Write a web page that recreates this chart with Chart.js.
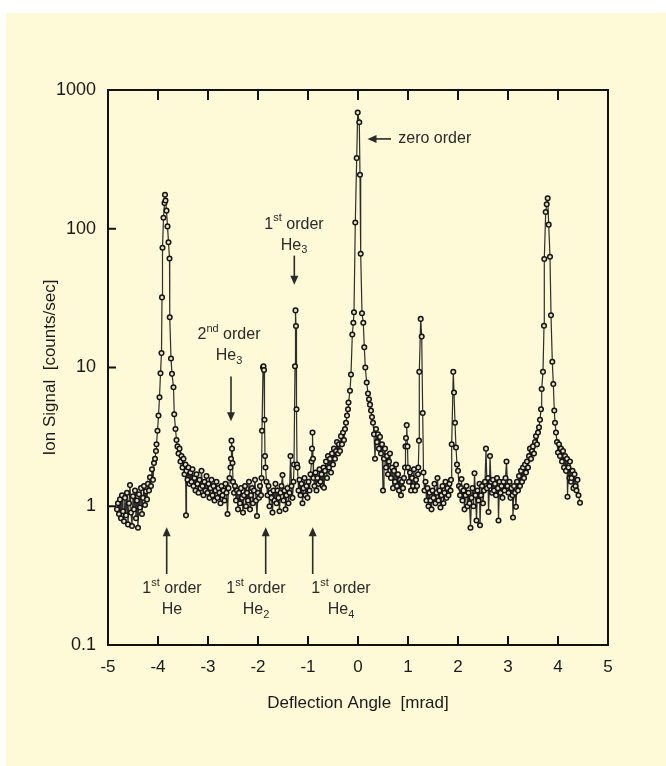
<!DOCTYPE html>
<html>
<head>
<meta charset="utf-8">
<script src="https://cdn.jsdelivr.net/npm/chart.js@4"></script>
<style>
  html, body { margin: 0; padding: 0; background: #ffffff; }
  #paper { position: absolute; left: 6px; top: 13px; width: 660px; height: 753px; background: #fef9d6; }
  #chart { position: absolute; left: 0; top: 0; }
</style>
</head>
<body>
<div id="paper"></div>
<canvas id="chart" width="666" height="766"></canvas>
<script>
// deflection angle [mrad]
const angle = [
  -4.82, -4.80, -4.78, -4.76, -4.74, -4.72, -4.70, -4.68, -4.66, -4.64,
  -4.62, -4.60, -4.58, -4.56, -4.54, -4.52, -4.50, -4.48, -4.46, -4.44,
  -4.42, -4.40, -4.38, -4.36, -4.34, -4.32, -4.30, -4.28, -4.26, -4.24,
  -4.22, -4.20, -4.18, -4.16, -4.14, -4.12, -4.10, -4.08, -4.06, -4.04,
  -4.03, -4.01, -3.99, -3.97, -3.95, -3.93, -3.92, -3.91, -3.89, -3.87,
  -3.86, -3.85, -3.83, -3.81, -3.79, -3.77, -3.765, -3.74, -3.72, -3.69,
  -3.675, -3.65, -3.63, -3.61, -3.59, -3.57, -3.55, -3.53, -3.51, -3.49,
  -3.47, -3.45, -3.44, -3.43, -3.41, -3.39, -3.37, -3.35, -3.33, -3.31,
  -3.29, -3.27, -3.25, -3.23, -3.21, -3.19, -3.17, -3.15, -3.13, -3.11,
  -3.09, -3.07, -3.05, -3.03, -3.01, -2.99, -2.97, -2.95, -2.93, -2.91,
  -2.89, -2.87, -2.85, -2.83, -2.81, -2.79, -2.77, -2.75, -2.73, -2.71,
  -2.69, -2.67, -2.65, -2.63, -2.61, -2.59, -2.57, -2.55, -2.54, -2.53,
  -2.52, -2.51, -2.50, -2.48, -2.46, -2.44, -2.42, -2.40, -2.38, -2.36,
  -2.34, -2.32, -2.30, -2.28, -2.26, -2.24, -2.22, -2.20, -2.18, -2.16,
  -2.14, -2.12, -2.10, -2.08, -2.06, -2.04, -2.02, -2.00, -1.98, -1.96,
  -1.94, -1.93, -1.92, -1.90, -1.89, -1.88, -1.87, -1.86, -1.85, -1.83,
  -1.81, -1.79, -1.77, -1.75, -1.73, -1.71, -1.69, -1.67, -1.65, -1.63,
  -1.61, -1.59, -1.57, -1.55, -1.53, -1.51, -1.49, -1.47, -1.45, -1.43,
  -1.41, -1.39, -1.37, -1.35, -1.33, -1.31, -1.29, -1.28, -1.26, -1.25,
  -1.24, -1.23, -1.22, -1.21, -1.19, -1.17, -1.15, -1.13, -1.11, -1.09,
  -1.07, -1.05, -1.03, -1.01, -0.99, -0.97, -0.95, -0.93, -0.92, -0.91,
  -0.90, -0.89, -0.87, -0.85, -0.83, -0.81, -0.79, -0.77, -0.75, -0.73,
  -0.71, -0.69, -0.68, -0.66, -0.64, -0.62, -0.60, -0.58, -0.56, -0.54,
  -0.52, -0.50, -0.48, -0.46, -0.44, -0.42, -0.40, -0.38, -0.36, -0.34,
  -0.32, -0.30, -0.28, -0.26, -0.24, -0.22, -0.20, -0.19, -0.16, -0.14,
  -0.114, -0.093, -0.08, -0.054, -0.026, -0.006, 0.026, 0.04, 0.054, 0.08,
  0.106, 0.126, 0.146, 0.174, 0.20, 0.22, 0.24, 0.26, 0.28, 0.30,
  0.32, 0.34, 0.36, 0.38, 0.40, 0.42, 0.44, 0.46, 0.48, 0.50,
  0.52, 0.54, 0.56, 0.58, 0.60, 0.62, 0.64, 0.66, 0.68, 0.70,
  0.72, 0.74, 0.76, 0.78, 0.80, 0.82, 0.84, 0.86, 0.88, 0.90,
  0.92, 0.94, 0.95, 0.96, 0.974, 0.99, 1.00, 1.02, 1.04, 1.06,
  1.08, 1.10, 1.12, 1.14, 1.16, 1.18, 1.20, 1.206, 1.22, 1.226,
  1.254, 1.274, 1.294, 1.31, 1.33, 1.35, 1.37, 1.39, 1.41, 1.43,
  1.45, 1.47, 1.49, 1.51, 1.53, 1.55, 1.57, 1.59, 1.61, 1.63,
  1.65, 1.67, 1.69, 1.71, 1.73, 1.75, 1.77, 1.79, 1.81, 1.83,
  1.85, 1.86, 1.874, 1.906, 1.92, 1.94, 1.96, 1.98, 2.00, 2.02,
  2.04, 2.06, 2.07, 2.09, 2.11, 2.13, 2.15, 2.17, 2.19, 2.21,
  2.23, 2.25, 2.27, 2.29, 2.31, 2.33, 2.35, 2.37, 2.39, 2.41,
  2.43, 2.44, 2.46, 2.48, 2.50, 2.52, 2.54, 2.56, 2.58, 2.60,
  2.61, 2.63, 2.64, 2.66, 2.68, 2.70, 2.72, 2.74, 2.76, 2.78,
  2.80, 2.81, 2.83, 2.85, 2.87, 2.89, 2.91, 2.93, 2.95, 2.97,
  2.99, 3.01, 3.03, 3.05, 3.07, 3.09, 3.10, 3.12, 3.14, 3.16,
  3.18, 3.20, 3.22, 3.24, 3.26, 3.28, 3.30, 3.32, 3.34, 3.36,
  3.38, 3.40, 3.42, 3.44, 3.46, 3.48, 3.50, 3.52, 3.54, 3.56,
  3.58, 3.60, 3.62, 3.64, 3.66, 3.674, 3.70, 3.72, 3.726, 3.754,
  3.774, 3.794, 3.814, 3.84, 3.86, 3.886, 3.906, 3.926, 3.94, 3.96,
  3.98, 4.00, 4.02, 4.04, 4.06, 4.08, 4.10, 4.12, 4.14, 4.16,
  4.18, 4.19, 4.21, 4.23, 4.24, 4.26, 4.27, 4.29, 4.31, 4.33,
  4.35, 4.37, 4.39, 4.41, 4.44
];

// ion signal [counts/sec]
const signal = [
  0.95, 1.05, 0.88, 1.12, 0.82, 1.20, 0.92, 0.78, 1.15, 0.86,
  1.25, 0.74, 1.05, 1.42, 0.90, 0.72, 1.18, 0.95, 1.30, 0.82,
  1.10, 0.70, 1.22, 0.98, 1.35, 0.88, 1.15, 1.40, 1.02, 1.28,
  1.12, 1.45, 1.30, 1.62, 1.40, 1.85, 1.55, 2.05, 2.2, 2.5,
  2.8, 3.5, 4.5, 6.1, 9.1, 12.7, 32, 73, 120, 153,
  176, 160, 135, 104, 80, 61, 23, 11.6, 9.0, 7.2,
  4.6, 3.6, 3.0, 2.7, 2.4, 2.6, 2.1, 2.3, 1.9, 2.2,
  1.7, 2.0, 0.86, 1.8, 1.55, 1.9, 1.45, 1.75, 1.5, 1.85,
  1.4, 1.6, 1.3, 1.7, 1.45, 1.25, 1.55, 1.35, 1.8, 1.4,
  1.2, 1.5, 1.3, 1.65, 1.25, 1.45, 1.15, 1.35, 1.55, 1.2,
  1.4, 1.1, 1.3, 1.5, 1.15, 1.35, 1.25, 1.05, 1.4, 1.2,
  1.3, 1.1, 1.45, 1.25, 0.88, 1.35, 1.6, 1.9, 2.2, 2.97,
  2.6, 2.05, 1.5, 1.25, 1.4, 1.1, 1.3, 0.95, 1.25, 1.05,
  1.35, 1.15, 0.9, 1.2, 1.4, 1.0, 1.25, 1.1, 1.5, 0.95,
  1.2, 1.35, 1.05, 1.3, 1.55, 1.1, 0.85, 1.25, 1.15, 1.4,
  1.2, 1.6, 3.5, 10.0, 10.2, 9.6, 4.2, 2.3, 1.9, 1.5,
  1.2, 1.4, 1.0, 1.25, 1.15, 0.9, 1.3, 1.1, 1.45, 1.05,
  1.3, 1.15, 0.92, 1.25, 1.4, 1.68, 1.1, 1.3, 0.95, 1.2,
  1.35, 1.05, 1.25, 2.3, 1.4, 1.15, 1.5, 2.0, 10.2, 25.8,
  19.9, 5.0, 2.0, 1.9, 1.3, 1.55, 1.2, 1.45, 1.05, 1.35,
  1.6, 1.2, 1.4, 1.15, 1.5, 1.3, 1.7, 2.1, 2.6, 3.4,
  2.2, 1.6, 1.4, 1.75, 1.3, 1.6, 1.45, 1.85, 1.5, 1.7,
  1.4, 1.9, 1.36, 1.8, 2.1, 1.6, 2.3, 1.9, 2.2, 1.75,
  2.4, 2.0, 2.6, 2.2, 2.5, 2.9, 2.4, 2.8, 2.5, 3.2,
  2.8, 3.4, 3.0, 3.6, 4.0, 4.5, 5.0, 5.6, 6.8, 8.9,
  17.3, 21, 25, 111, 323, 687, 586, 245, 66, 24.6,
  21, 14, 10, 7.8, 6.5, 5.9, 5.4, 4.9, 4.4, 4.0,
  3.3, 2.2, 3.6, 2.9, 3.3, 2.6, 3.16, 2.4, 2.8, 1.3,
  2.2, 2.6, 1.9, 2.3, 1.7, 2.1, 2.4, 1.6, 1.9, 1.35,
  1.8, 1.5, 2.0, 1.4, 1.7, 1.3, 1.55, 1.2, 1.5, 1.35,
  1.6, 1.9, 2.7, 3.1, 3.84, 2.7, 1.9, 1.5, 1.75, 1.3,
  1.6, 1.4, 1.85, 1.3, 1.55, 1.4, 1.7, 1.9, 2.97, 9.3,
  22.4, 16.7, 4.7, 1.75, 1.3, 1.5, 1.1, 1.35, 1.0, 1.25,
  1.1, 0.95, 1.3, 1.15, 1.45, 1.05, 1.25, 1.6, 1.1, 1.3,
  0.98, 1.2, 1.4, 1.05, 1.25, 1.5, 1.15, 1.35, 1.2, 1.45,
  1.3, 1.55, 2.8, 9.3, 6.6, 4.0, 2.65, 2.0, 1.8, 1.4,
  1.2, 1.35, 1.57, 1.1, 1.3, 0.95, 1.2, 1.4, 1.0, 1.25,
  1.05, 0.70, 1.15, 1.35, 1.0, 1.73, 1.2, 0.79, 1.3, 1.1,
  1.45, 0.73, 1.2, 1.4, 1.05, 1.3, 1.5, 2.6, 1.35, 1.6,
  0.91, 1.4, 2.3, 1.5, 1.25, 1.55, 1.3, 1.45, 1.2, 1.6,
  1.35, 0.79, 1.5, 1.25, 1.4, 1.15, 1.5, 1.3, 1.6, 2.1,
  1.4, 1.25, 1.5, 1.15, 1.35, 1.2, 0.83, 1.4, 1.25, 0.99,
  1.5, 1.3, 1.65, 1.4, 1.8, 1.5, 1.9, 1.6, 2.0, 1.75,
  2.1, 1.9, 2.3, 2.6, 2.2, 2.5, 2.7, 2.4, 2.9, 3.2,
  2.8, 3.4, 3.7, 4.2, 5.0, 7.0, 9.3, 20, 60.5, 132,
  150, 166, 107, 62.8, 23.8, 11, 7.6, 4.9, 4.0, 3.4,
  2.9, 2.44, 2.8, 2.3, 2.6, 2.1, 2.5, 1.9, 2.3, 1.8,
  2.2, 1.17, 1.9, 1.6, 2.1, 1.5, 1.6, 1.8, 1.35, 1.7,
  1.4, 1.3, 1.55, 1.2, 1.06
];

const xTicks = [-5, -4, -3, -2, -1, 0, 1, 2, 3, 4, 5];
const yTicks = [0.1, 1, 10, 100, 1000];
const yTickLabels = ['0.1', '1', '10', '100', '1000'];

// labels: each part is [text, 0 normal | 1 superscript | -1 subscript]
const notes = [
  { lines: [[['1', 0], ['st', 1], [' order', 0]], [['He', 0], ['3', -1]]],
    at: [-1.28, 108, 76], arrow: [-1.274, 64, 39.5] },
  { lines: [[['2', 0], ['nd', 1], [' order', 0]], [['He', 0], ['3', -1]]],
    at: [-2.58, 17.3, 12.2], arrow: [-2.54, 8.6, 4.09] },
  { lines: [[['1', 0], ['st', 1], [' order', 0]], [['He', 0]]],
    at: [-3.72, 0.253, 0.18], arrow: [-3.826, 0.325, 0.706] },
  { lines: [[['1', 0], ['st', 1], [' order', 0]], [['He', 0], ['2', -1]]],
    at: [-2.04, 0.253, 0.18], arrow: [-1.846, 0.325, 0.706] },
  { lines: [[['1', 0], ['st', 1], [' order', 0]], [['He', 0], ['4', -1]]],
    at: [-0.34, 0.253, 0.18], arrow: [-0.906, 0.325, 0.706] }
];
const zeroNote = { text: 'zero order', at: [0.806, 444], arrow: [0.66, 0.19] };

const FONT = '"Liberation Sans", Arial, Helvetica, sans-serif';
const points = angle.map((a, i) => ({ x: a, y: signal[i] }));

function richWidth(ctx, parts) {
  let w = 0;
  parts.forEach(([t, k]) => {
    ctx.font = (k ? 11 : 16) + 'px ' + FONT;
    w += ctx.measureText(t).width;
  });
  return w;
}

function drawRich(ctx, parts, cx, cy) {
  let x = cx - richWidth(ctx, parts) / 2;
  parts.forEach(([t, k]) => {
    ctx.font = (k ? 11 : 16) + 'px ' + FONT;
    ctx.fillText(t, x, cy + (k === 1 ? -6 : k === -1 ? 5 : 0));
    x += ctx.measureText(t).width;
  });
}

function drawArrow(ctx, x1, y1, x2, y2) {
  const ang = Math.atan2(y2 - y1, x2 - x1);
  const hl = 9, hw = 4;
  ctx.beginPath();
  ctx.moveTo(x1, y1);
  ctx.lineTo(x2 - Math.cos(ang) * hl * 0.8, y2 - Math.sin(ang) * hl * 0.8);
  ctx.stroke();
  ctx.beginPath();
  ctx.moveTo(x2, y2);
  ctx.lineTo(x2 - Math.cos(ang) * hl - Math.sin(ang) * hw, y2 - Math.sin(ang) * hl + Math.cos(ang) * hw);
  ctx.lineTo(x2 - Math.cos(ang) * hl + Math.sin(ang) * hw, y2 - Math.sin(ang) * hl - Math.cos(ang) * hw);
  ctx.closePath();
  ctx.fill();
}

const framePlugin = {
  id: 'frame',
  afterDraw(chart) {
    const { ctx, chartArea: a, scales: { x, y } } = chart;
    ctx.save();
    ctx.strokeStyle = '#111';
    ctx.lineWidth = 2;
    ctx.strokeRect(a.left, a.top, a.right - a.left, a.bottom - a.top);
    ctx.beginPath();
    xTicks.slice(1, -1).forEach(v => {
      const px = x.getPixelForValue(v);
      ctx.moveTo(px, a.top); ctx.lineTo(px, a.top + 10);
      ctx.moveTo(px, a.bottom); ctx.lineTo(px, a.bottom - 9);
    });
    yTicks.slice(1, -1).forEach(v => {
      const py = y.getPixelForValue(v);
      ctx.moveTo(a.left, py); ctx.lineTo(a.left + 8, py);
    });
    ctx.stroke();

    ctx.fillStyle = '#2a2a2a';
    ctx.strokeStyle = '#2a2a2a';
    ctx.lineWidth = 1.6;
    ctx.textBaseline = 'middle';
    ctx.textAlign = 'left';
    notes.forEach(n => {
      const cx = x.getPixelForValue(n.at[0]);
      n.lines.forEach((parts, i) => drawRich(ctx, parts, cx, y.getPixelForValue(n.at[1 + i])));
      const ax = x.getPixelForValue(n.arrow[0]);
      drawArrow(ctx, ax, y.getPixelForValue(n.arrow[1]), ax, y.getPixelForValue(n.arrow[2]));
    });
    const zy = y.getPixelForValue(zeroNote.at[1]);
    ctx.font = '16px ' + FONT;
    ctx.fillText(zeroNote.text, x.getPixelForValue(zeroNote.at[0]), zy);
    drawArrow(ctx, x.getPixelForValue(zeroNote.arrow[0]), zy, x.getPixelForValue(zeroNote.arrow[1]), zy);
    ctx.restore();
  }
};

new Chart(document.getElementById('chart'), {
  type: 'scatter',
  data: {
    datasets: [{
      data: points,
      showLine: true,
      borderColor: '#2e2e2e',
      borderWidth: 1.2,
      pointRadius: 2.3,
      pointBorderWidth: 1.5,
      pointBorderColor: '#141414',
      pointBackgroundColor: '#e8e3c6'
    }]
  },
  options: {
    responsive: false,
    animation: false,
    layout: { padding: { left: 40, top: 90, right: 58, bottom: 52 } },
    plugins: { legend: { display: false }, tooltip: { enabled: false } },
    scales: {
      x: {
        type: 'linear', min: -5, max: 5,
        afterBuildTicks: s => { s.ticks = xTicks.map(v => ({ value: v })); },
        afterFit: s => { s.height = 69; },
        grid: { display: false, drawTicks: false },
        border: { display: false },
        ticks: { color: '#1a1a1a', padding: 12, font: { size: 17, family: FONT }, callback: v => String(v) },
        title: { display: true, text: 'Deflection Angle  [mrad]', color: '#1a1a1a', padding: 0, font: { size: 17, family: FONT } }
      },
      y: {
        type: 'logarithmic', min: 0.1, max: 1000,
        afterBuildTicks: s => { s.ticks = yTicks.map(v => ({ value: v })); },
        afterFit: s => { s.width = 68; },
        grid: { display: false, drawTicks: false },
        border: { display: false },
        ticks: { color: '#1a1a1a', padding: 12, font: { size: 18, family: FONT },
          callback: v => yTickLabels[yTicks.indexOf(v)] },
        title: { display: true, text: 'Ion Signal  [counts/sec]', color: '#1a1a1a', padding: 0, font: { size: 17, family: FONT } }
      }
    }
  },
  plugins: [framePlugin]
});
</script>
</body>
</html>
